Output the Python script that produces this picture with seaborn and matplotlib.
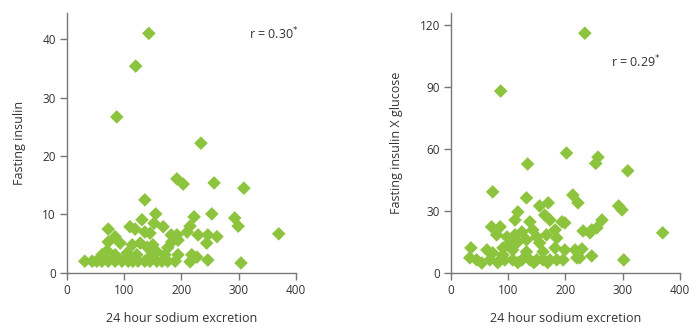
import numpy as np
import pandas as pd
import seaborn as sns
import matplotlib.pyplot as plt

# left panel: 24 h sodium excretion vs fasting insulin
sodium_l = [143, 120, 87, 234, 192, 203, 257, 309, 136, 155, 253, 222, 131, 293,
            152, 215, 299, 110, 168, 119, 72, 145, 136, 370, 229, 246, 262, 182,
            192, 210, 84, 72, 93, 114, 128, 140, 150, 157, 183, 194, 244, 176,
            70, 105, 218, 227, 61, 84, 122, 148, 171, 194,
            31, 44, 52, 61, 72, 84, 96, 107, 115, 124, 136, 145, 157, 166, 176,
            189, 215, 246, 304]
insulin = [41.0, 35.4, 26.7, 22.2, 16.1, 15.2, 15.4, 14.5, 12.5, 10.1, 10.1, 9.6,
           9.1, 9.4, 8.5, 8.0, 8.0, 7.9, 7.9, 7.5, 7.5, 6.8, 7.0, 6.7, 6.5, 6.5,
           6.2, 6.5, 6.5, 7.0, 6.2, 5.3, 5.1, 4.8, 5.1, 4.4, 4.8, 3.6, 5.3, 5.6,
           5.1, 4.3, 3.8, 3.4, 3.1, 2.7, 3.1, 3.1, 3.1, 3.1, 3.1, 3.1,
           2.0, 2.0, 2.0, 2.0, 2.0, 2.0, 2.0, 2.0, 2.0, 2.0, 2.0, 2.0, 2.0, 2.0,
           2.0, 2.0, 1.9, 2.2, 1.7]

# right panel: 24 h sodium excretion vs fasting insulin x glucose
sodium_r = [234, 87, 202, 257, 253, 309, 134, 73, 132, 213, 222, 293, 299, 155,
            170, 117, 164, 112, 173, 194, 264, 138, 199, 71, 86, 255, 246, 143,
            231, 243, 370, 124, 80, 112, 98, 150, 167, 182, 185, 103, 117, 132,
            155, 91, 108, 35, 63, 199, 217, 229, 132, 161, 182, 73, 91, 33, 45,
            54, 68, 86, 94, 108, 124, 138, 150, 161, 173, 185, 196, 82, 117, 145,
            169, 220, 225, 246, 302]
ins_glu = [116, 88, 58, 56, 53, 49.4, 52.7, 39.2, 36.3, 37.7, 33.9, 32.4, 30.5,
           32.4, 33.9, 29.5, 28, 25.6, 25.6, 24.7, 25.6, 24.7, 24.2, 22.3, 22.3,
           21.8, 20.8, 20.8, 20.3, 19.4, 19.4, 19.8, 18.4, 18.4, 17.4, 17.4, 18.4,
           20.8, 16.9, 14.5, 15.0, 16.0, 14.5, 12.1, 11.1, 12.1, 11.1, 11.1, 11.1,
           11.6, 10.2, 10.2, 12.1, 9.7, 8.7, 7.3, 6.3, 4.8, 6.3, 6.3, 6.3, 6.3,
           6.3, 6.3, 6.3, 6.3, 6.3, 6.3, 6.3, 5.0, 5.0, 5.0, 5.0, 7.3, 7.3, 8.2,
           6.3]

df_l = pd.DataFrame({'sodium': sodium_l, 'val': insulin})
df_r = pd.DataFrame({'sodium': sodium_r, 'val': ins_glu})

sns.set_style('white')
plt.rcParams['font.family'] = ['Open Sans', 'DejaVu Sans']

green = '#8DC43E'
grey = '#777777'

fig = plt.figure(figsize=(6.98, 3.32), dpi=100)
ax1 = fig.add_axes([0.096, 0.178, 0.328, 0.783])
ax2 = fig.add_axes([0.646, 0.178, 0.328, 0.783])

panels = [
    (ax1, df_l, 'Fasting insulin', [0, 10, 20, 30, 40], 44.5, 'r = 0.30', 0.795, 0.92),
    (ax2, df_r, 'Fasting insulin X glucose', [0, 30, 60, 90, 120], 125.8, 'r = 0.29', 0.70, 0.81),
]

for ax, d, ylab, yt, ytop, rtxt, tx, ty in panels:
    sns.scatterplot(data=d, x='sodium', y='val', ax=ax, marker='D', s=48,
                    color=green, edgecolor='none', linewidth=0, clip_on=False)
    ax.set_xlim(0, 400)
    ax.set_ylim(0, ytop)
    ax.set_xticks([0, 100, 200, 300, 400])
    ax.set_yticks(yt)
    sns.despine(ax=ax)
    for s in ['left', 'bottom']:
        ax.spines[s].set_color(grey)
        ax.spines[s].set_linewidth(1.0)
    ax.tick_params(axis='both', direction='out', length=5, width=1.0, color=grey,
                   labelsize=8.5, labelcolor='#333333', pad=3, left=True, bottom=True)
    ax.set_xlabel('24 hour sodium excretion', fontsize=9, color='#333333', labelpad=11)
    ax.set_ylabel(ylab, fontsize=9, color='#333333', labelpad=12)
    ax.text(tx, ty, rtxt + r'$^{*}$', transform=ax.transAxes, fontsize=9,
            color='#333333', ha='left', va='center')

fig.savefig('out.png', dpi=100)
